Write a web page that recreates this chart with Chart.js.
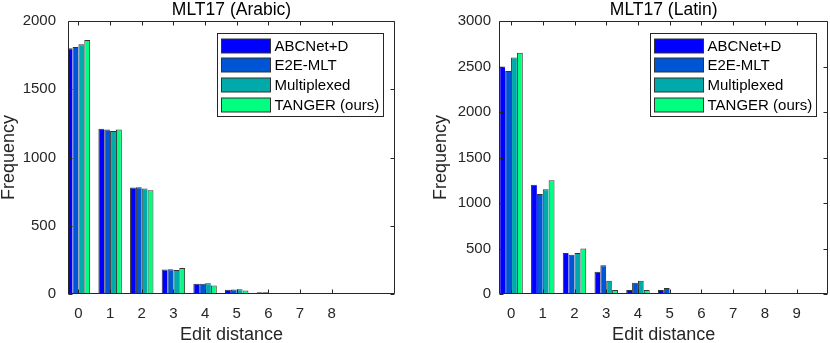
<!DOCTYPE html>
<html><head><meta charset="utf-8">
<script src="https://cdn.jsdelivr.net/npm/chart.js@4.4.1/dist/chart.umd.min.js"></script>
<style>
html,body{margin:0;padding:0;background:#fff;}
#wrap{position:relative;width:830px;height:343px;background:#fff;}
#c1{position:absolute;left:0;top:0;}
#c2{position:absolute;left:415px;top:0;}
</style></head><body>
<div id="wrap"><canvas id="c1" width="415" height="343"></canvas><canvas id="c2" width="415" height="343"></canvas></div>
<script>
// ---- data ----
const seriesNames = ['ABCNet+D', 'E2E-MLT', 'Multiplexed', 'TANGER (ours)'];
const seriesColors = ['#0000ff', '#0055d4', '#00aaaa', '#00ff80'];

const arabicDistances = [0, 1, 2, 3, 4, 5, 6, 7, 8];
const arabicABCNet      = [1800, 1210, 780, 180, 75, 32, 12, 4, 2];
const arabicE2E         = [1810, 1205, 782, 182, 75, 33, 12, 5, 3];
const arabicMultiplexed = [1830, 1195, 772, 175, 78, 34, 8, 2, 1];
const arabicTANGER      = [1860, 1205, 760, 190, 63, 25, 2, 1, 1];
const arabicYTicks = [0, 500, 1000, 1500, 2000];

const latinDistances = [0, 1, 2, 3, 4, 5, 6, 7, 8, 9];
const latinABCNet      = [2500, 1200, 450, 245, 45, 45, 2, 1, 1, 1];
const latinE2E         = [2450, 1100, 430, 315, 125, 65, 2, 1, 1, 1];
const latinMultiplexed = [2600, 1150, 450, 145, 145, 2, 1, 1, 1, 1];
const latinTANGER      = [2650, 1250, 500, 45, 45, 1, 1, 1, 1, 1];
const latinYTicks = [0, 500, 1000, 1500, 2000, 2500, 3000];

// ---- drawing ----
const FONT = '"Liberation Sans", Arial, Helvetica, sans-serif';
const AXIS = '#262626';

const framePlugin = {
  id: 'frame',
  afterDatasetsDraw(chart) {
    const ctx = chart.ctx, a = chart.chartArea;
    const xs = chart.scales.x, ys = chart.scales.y;
    const L = Math.round(a.left) + 0.5, R = Math.round(a.right) - 0.5;
    const T = Math.round(a.top) + 0.5, B = Math.round(a.bottom) - 0.5;
    ctx.save();
    ctx.strokeStyle = AXIS; ctx.lineWidth = 1;
    ctx.beginPath();
    ctx.rect(L, T, R - L, B - T);
    xs.ticks.forEach(t => {
      const px = Math.round(xs.getPixelForValue(t.value)) + 0.5;
      ctx.moveTo(px, B); ctx.lineTo(px, B - 4);
      ctx.moveTo(px, T); ctx.lineTo(px, T + 4);
    });
    ys.ticks.forEach(t => {
      const py = Math.round(ys.getPixelForValue(t.value)) + 0.5;
      ctx.moveTo(L, py); ctx.lineTo(L + 4, py);
      ctx.moveTo(R, py); ctx.lineTo(R - 4, py);
    });
    ctx.stroke();
    ctx.restore();
  },
  afterDraw(chart) {
    const ctx = chart.ctx, a = chart.chartArea;
    const w = 166, h = 83;
    const L = Math.round(a.right - 12.3 - w) + 0.5, T = Math.round(a.top + 12.3) + 0.5;
    ctx.save();
    ctx.fillStyle = '#fff'; ctx.fillRect(L, T, w, h);
    ctx.strokeStyle = AXIS; ctx.lineWidth = 1; ctx.strokeRect(L, T, w, h);
    ctx.font = '15px ' + FONT; ctx.textBaseline = 'middle'; ctx.textAlign = 'left';
    chart.data.datasets.forEach((ds, i) => {
      const cy = Math.round(T + 12 + i * 19.7);
      ctx.fillStyle = ds.backgroundColor;
      ctx.fillRect(L + 4, cy - 7, 49, 14);
      ctx.strokeStyle = '#333';
      ctx.strokeRect(L + 4, cy - 7, 49, 14);
      ctx.fillStyle = '#000';
      ctx.fillText(ds.label, L + 57, cy + 1);
    });
    ctx.restore();
  }
};

function makeChart(id, cfg) {
  const datasets = cfg.series.map((vals, i) => ({
    label: seriesNames[i],
    data: cfg.cats.map((c, j) => ({ x: c, y: vals[j] })),
    backgroundColor: seriesColors[i],
    borderColor: '#333',
    borderWidth: i === cfg.series.length - 1 ? { top: 1, left: 1, right: 1, bottom: 0 } : { top: 1, left: 1, right: 0, bottom: 0 },
    borderSkipped: 'start',
    categoryPercentage: 0.74,
    barPercentage: 1.0
  }));
  return new Chart(document.getElementById(id), {
    type: 'bar',
    data: { datasets },
    plugins: [framePlugin],
    options: {
      responsive: false,
      animation: false,
      devicePixelRatio: 1,
      layout: { padding: { left: 0, right: cfg.rightPad, top: 0, bottom: 0 } },
      plugins: {
        legend: { display: false },
        tooltip: { enabled: false },
        title: {
          display: true, text: cfg.title, fullSize: false,
          color: '#000', font: { family: FONT, size: 17.5, weight: 'normal', lineHeight: 1.2 },
          padding: { top: 0, bottom: 0 }
        }
      },
      scales: {
        x: {
          type: 'linear', min: cfg.xMin, max: cfg.xMax, offset: false,
          afterBuildTicks: s => { s.ticks = cfg.cats.map(v => ({ value: v })); },
          afterFit: s => { s.height = 49; },
          grid: { display: false, drawTicks: false, offset: false },
          border: { display: false },
          ticks: { color: AXIS, font: { family: FONT, size: 15 }, padding: 11, autoSkip: false, maxRotation: 0, callback: v => String(v) },
          title: { display: true, text: 'Edit distance', color: AXIS, font: { family: FONT, size: 18, lineHeight: 1.2 }, padding: { top: 0, bottom: -3 } }
        },
        y: {
          type: 'linear', min: 0, max: cfg.yMax,
          afterBuildTicks: s => { s.ticks = cfg.yTicks.map(v => ({ value: v })); },
          afterFit: s => { s.width = cfg.yWidth; },
          grid: { display: false, drawTicks: false },
          border: { display: false },
          ticks: { color: AXIS, font: { family: FONT, size: 15 }, padding: cfg.yTickPad, callback: v => String(v) },
          title: { display: true, text: 'Frequency', color: AXIS, font: { family: FONT, size: 18, lineHeight: 1.2 }, padding: { top: cfg.yTitlePad, bottom: 0 } }
        }
      }
    }
  });
}

makeChart('c1', {
  title: 'MLT17 (Arabic)', cats: arabicDistances,
  series: [arabicABCNet, arabicE2E, arabicMultiplexed, arabicTANGER],
  yTicks: arabicYTicks, yMax: 2000, xMin: -0.33, xMax: 10.0,
  yWidth: 68, rightPad: 20, yTickPad: 12, yTitlePad: -2
});
makeChart('c2', {
  title: 'MLT17 (Latin)', cats: latinDistances,
  series: [latinABCNet, latinE2E, latinMultiplexed, latinTANGER],
  yTicks: latinYTicks, yMax: 3000, xMin: -0.38, xMax: 10.0,
  yWidth: 84, rightPad: 1.7, yTickPad: 8, yTitlePad: 15
});
</script>
</body></html>
